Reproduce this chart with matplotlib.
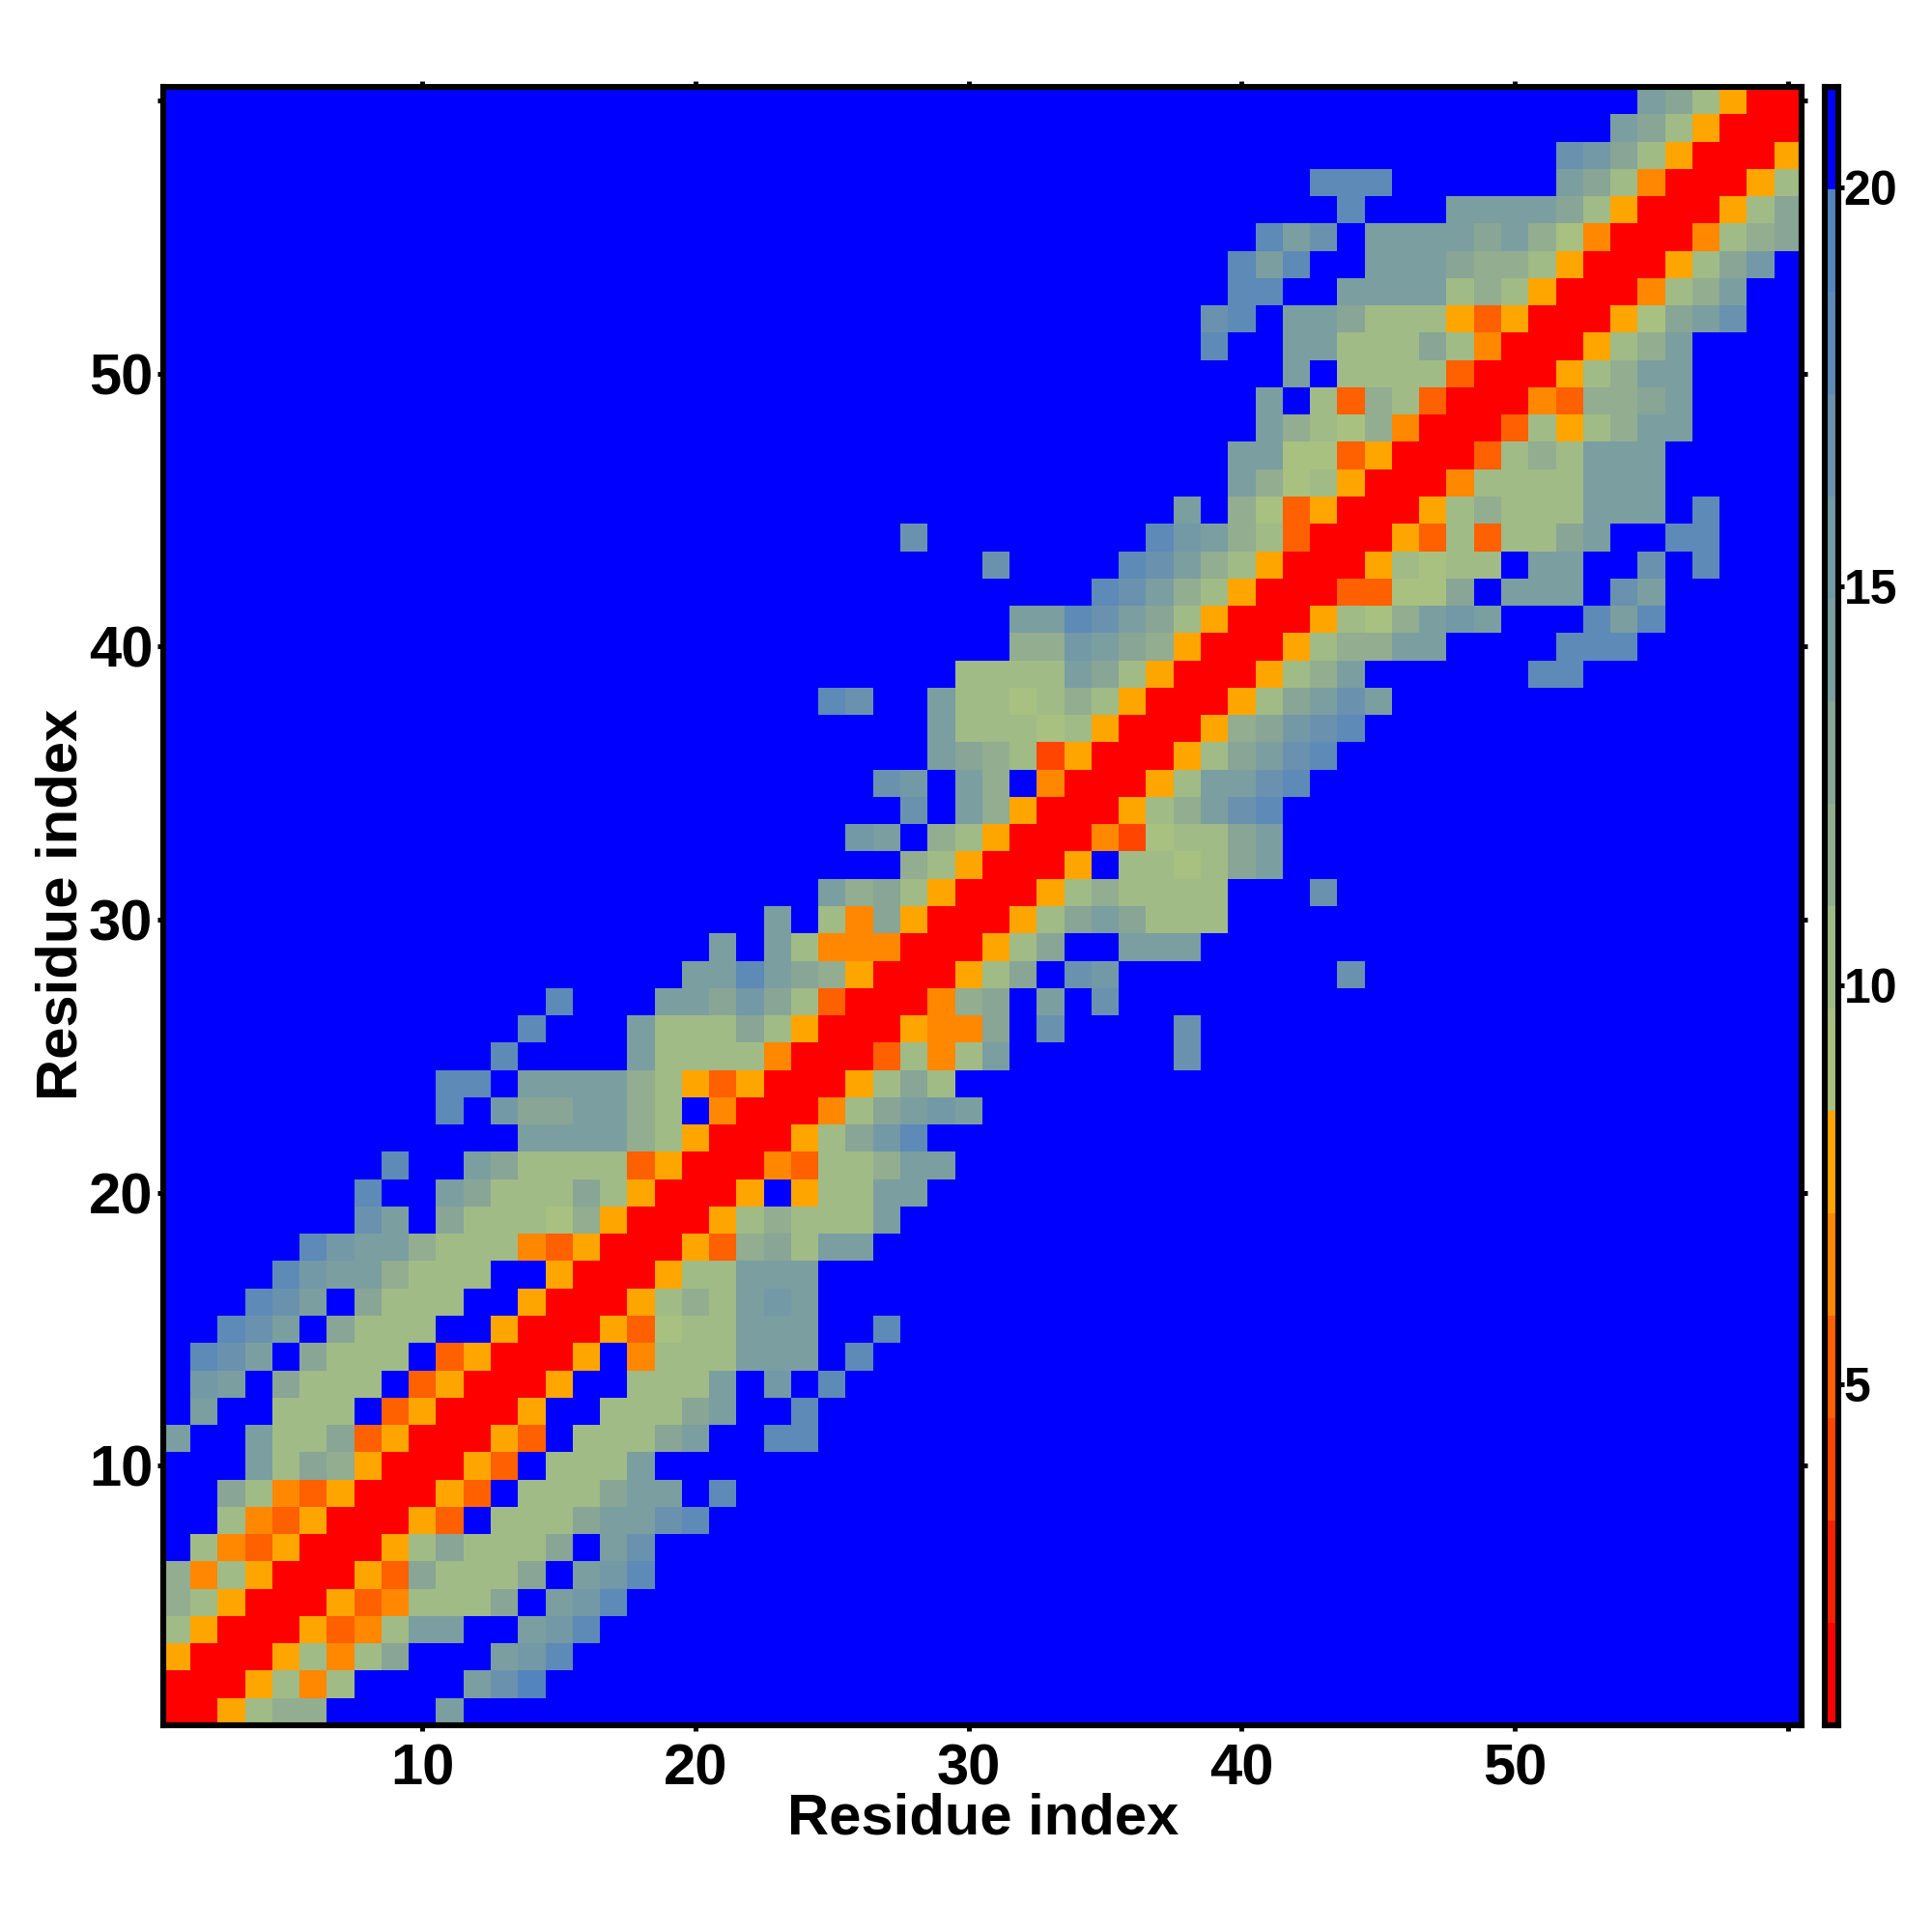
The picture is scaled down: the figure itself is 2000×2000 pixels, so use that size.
import numpy as np
import matplotlib
matplotlib.use("Agg")
import matplotlib.pyplot as plt
from matplotlib.colors import ListedColormap, BoundaryNorm

plt.rcParams["font.family"] = ["Liberation Sans", "DejaVu Sans"]
plt.rcParams["font.weight"] = "bold"

# =========================================================
# Data: distance level per residue pair, row 1 is the bottom row
# '.' = top level (blue), 0-e = level index in the colour key
# =========================================================
n_res = 60
dist_min = 0.73
dist_step = 1.283

row_start = [
    1, 1, 1, 1, 1, 1, 2, 3, 3, 4,
    1, 2, 2, 2, 3, 4, 5, 6, 8, 8,
    9, 14, 11, 11, 13, 14, 15, 20, 21, 23,
    25, 28, 26, 28, 27, 29, 29, 25, 30, 32,
    32, 35, 31, 28, 38, 40, 40, 41, 41, 42,
    39, 39, 40, 40, 41, 44, 43, 52, 54, 55,
]
row_levels = [
    "005788....a",
    "0005747....ace",
    "500057479...abd",
    "750005347aa..abd",
    "8750005347779.abd",
    "84750005397779.abd",
    "74350005797779.ac",
    "743500053.7779aacd",
    "9743500053.7779aa.d",
    "a798500053.777a",
    "a..a7793500053.7779a..dd",
    "a..777.350005..7779a..d",
    "ba.9777.350005..777a.b.d",
    "dca.9777.350005.4777aaa.d",
    "dca.9777..500053677aaa..d",
    "dca.9777..50005787aba",
    "dbaa8777..5000577aaa",
    "dbaa877743500053897aa",
    "ca.9777685000578777a",
    "d..a97779750005.577aa",
    "d..a977773500043778aa",
    "aaaa875000579bd",
    "d.b99aa87.4000479aba",
    "dd.aaaa875350005797",
    "d....a777740003747a......c",
    "d...a7779750005449.c....c",
    "d...aa9b973000489.a.c",
    "aada985000579.cb........c",
    "a.a7444000579..aaa",
    "a.7495000579a9777",
    "a89750005787777...c",
    "8750005.77679a",
    "ba.875000426779a",
    "c.a85000578acd",
    "cb.a8.400057aacd",
    "a98725000579acd",
    "a777675000589bcd",
    "dc..a7767875000579aca",
    "7777a975000578a......dd",
    "88ba9850005788aa....ddd",
    "aadca9750005768aba...dad",
    "dca87500033669.aaa.ca",
    "c....dca87500057677.aa..c.d",
    "c........dba8730005373779a..dd",
    "a.8635000578777aaa.d",
    "a867500047777aaa",
    "aa66350003787aaa",
    "a8768400037578aa",
    "a.7387300043889a",
    "a.77773000578aa",
    "d..aa777974000578a",
    "cd.aa9777535000569ac",
    "dd..aaaa7875000478a",
    "dad..aaa98875000579b",
    "dac.aaaa9a8640004789",
    "d...aaaa975000579",
    "ddd......a97400057",
    "cb9750005",
    "a975000",
    "a97500",
]
key_colors = [
    "#ff0000", "#f62000", "#ff4500", "#ff6000", "#ff8800", "#ffa500",
    "#a8c080", "#a0bb86", "#92ad8f", "#88a596", "#7b9ea0", "#7399a6",
    "#6a92ae", "#5d8ab6", "#5484bd", "#0000ff",
]
tick_pos = [10, 20, 30, 40, 50, 60]
tick_labels = ["10", "20", "30", "40", "50", ""]
key_ticks = [5, 10, 15, 20]

# =========================================================
# Build the matrix
# =========================================================
bounds = dist_min + dist_step * np.arange(17)
mids = (bounds[:-1] + bounds[1:]) / 2

dist = np.full((n_res, n_res), mids[15])
for i, (start, levels) in enumerate(zip(row_start, row_levels)):
    for j, ch in enumerate(levels):
        if ch != ".":
            dist[i, start - 1 + j] = mids[int(ch, 16)]

cmap = ListedColormap(key_colors)
norm = BoundaryNorm(bounds, 16)

# =========================================================
# Figure
# =========================================================
W = 2000.0
fig = plt.figure(figsize=(20, 20), dpi=100)
ax = fig.add_axes([168.7 / W, 1 - 1786 / W, (1865 - 168.7) / W, (1786 - 90) / W])

edges = np.arange(n_res + 1) + 0.5
ax.pcolormesh(edges, edges, dist, cmap=cmap, norm=norm, rasterized=True)
ax.set_xlim(0.5, 60.5)
ax.set_ylim(0.5, 60.5)

ax.set_xticks(tick_pos)
ax.set_xticklabels(tick_labels)
ax.set_yticks(tick_pos)
ax.set_yticklabels(tick_labels)
ax.tick_params(axis="both", which="major", direction="out", length=4.5, width=3.6,
               labelsize=43, top=True, right=True, pad=9)
ax.tick_params(axis="y", pad=3)
for spine in ax.spines.values():
    spine.set_linewidth(4.4)

fig.text(1018 / W, 1 - 1883 / W, "Residue index", ha="center", va="center",
         fontsize=43, fontweight="bold")
fig.text(64 / W, 1 - 936 / W, "Residue index", ha="center", va="center",
         rotation=90, fontsize=43, fontweight="bold")

# colour key
cax = fig.add_axes([1889 / W, 1 - 1786 / W, 13.5 / W, (1786 - 90) / W])
cax.pcolormesh([0, 1], bounds, np.arange(16).reshape(-1, 1), cmap=cmap,
               vmin=-0.5, vmax=15.5, rasterized=True)
cax.set_xlim(0, 1)
cax.set_ylim(bounds[0], bounds[-1])
cax.set_xticks([])
cax.yaxis.tick_right()
cax.set_yticks(key_ticks)
cax.set_yticklabels([str(t) for t in key_ticks])
cax.tick_params(axis="y", direction="out", length=4.5, width=3.6, labelsize=36, pad=0)
for spine in cax.spines.values():
    spine.set_linewidth(4.4)

fig.savefig("out.png", dpi=100)
